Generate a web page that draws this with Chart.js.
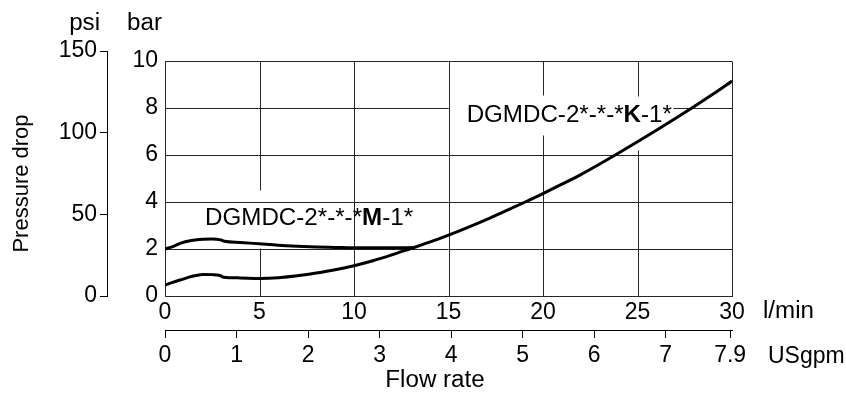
<!DOCTYPE html>
<html>
<head>
<meta charset="utf-8">
<script src="https://cdn.jsdelivr.net/npm/chart.js@4.4.0/dist/chart.umd.min.js"></script>
<style>
body { margin: 0; background: #fff; }
#wrap { width: 846px; height: 393px; }
</style>
</head>
<body>
<div id="wrap"><canvas id="chart" width="846" height="393"></canvas></div>
<script>
// flow rate in l/min, pressure drop in bar
var kFlow = [0, 0.4, 0.8, 1.4, 2.0, 2.5, 2.9, 3.1, 4, 5, 6, 7, 8, 9, 10, 11, 12, 13, 14, 15, 16, 17, 18, 19, 20, 21, 22, 23, 24, 25, 26, 27, 28, 29, 30];
var kBar  = [0.47, 0.58, 0.68, 0.83, 0.92, 0.91, 0.87, 0.80, 0.77, 0.75, 0.78, 0.86, 0.98, 1.12, 1.29, 1.50, 1.75, 2.02, 2.29, 2.59, 2.91, 3.25, 3.61, 3.98, 4.36, 4.76, 5.17, 5.62, 6.09, 6.57, 7.06, 7.56, 8.07, 8.60, 9.15];

var mFlow = [0, 0.4, 0.8, 1.4, 2.0, 2.5, 2.95, 3.15, 4, 5, 6, 7, 8, 9, 10, 11, 12, 13.2];
var mBar  = [2.00, 2.10, 2.24, 2.36, 2.42, 2.43, 2.39, 2.33, 2.28, 2.22, 2.16, 2.12, 2.09, 2.07, 2.05, 2.05, 2.05, 2.06];

var flowTicks = [0, 5, 10, 15, 20, 25, 30];
var gpmTicks = [0, 1, 2, 3, 4, 5, 6, 7, 7.9];
var barTicks = [0, 2, 4, 6, 8, 10];
var psiTicks = [0, 50, 100, 150];

var kName = ["DGMDC-2*-*-*", "K", "-1*"];
var mName = ["DGMDC-2*-*-*", "M", "-1*"];

// where the vertical grid lines are broken behind the labels (bar ranges)
var vGridSegs = { 5: [[0, 2.04], [4.5, 10]], 20: [[0, 6.85], [8.55, 10]], 25: [[0, 6.2], [8.5, 10]] };

var FONT = "'Liberation Sans', Arial, Helvetica, sans-serif";
var gridColor = "#262626";

function pts(xs, ys) {
    var out = [];
    for (var i = 0; i < xs.length; i++)
        out.push({ x: xs[i], y: ys[i] });
    return out;
}

function setTicks(list) {
    return function (s) { s.ticks = list.map(function (v) { return { value: v }; }); };
}

function drawParts(ctx, parts, x, y, size, align, stretch) {
    ctx.save();
    ctx.translate(x, y);
    ctx.scale(stretch || 1.05, 1);
    ctx.textBaseline = "alphabetic";
    ctx.fillStyle = "#000";
    var total = 0;
    for (var i = 0; i < parts.length; i++) {
        ctx.font = (i == 1 && parts.length == 3 ? "bold " : "") + size + "px " + FONT;
        total += ctx.measureText(parts[i]).width;
    }
    var cx = align == "right" ? -total : (align == "center" ? -total / 2 : 0);
    ctx.textAlign = "left";
    for (var i = 0; i < parts.length; i++) {
        ctx.font = (i == 1 && parts.length == 3 ? "bold " : "") + size + "px " + FONT;
        ctx.fillText(parts[i], cx, 0);
        cx += ctx.measureText(parts[i]).width;
    }
    ctx.restore();
}

var gridPlugin = {
    id: "vgrid",
    beforeDatasetsDraw: function (chart) {
        var ctx = chart.ctx, xs = chart.scales.x, ys = chart.scales.y;
        ctx.save();
        // gap in the 8 bar line behind the K label
        ctx.fillStyle = "#fff";
        var y8 = ys.getPixelForValue(8);
        ctx.fillRect(xs.getPixelForValue(15) + 1, y8 - 2, xs.getPixelForValue(26.9) - xs.getPixelForValue(15) - 1, 4);

        ctx.strokeStyle = gridColor;
        ctx.lineWidth = 1;
        flowTicks.forEach(function (v) {
            var px = Math.round(xs.getPixelForValue(v)) + 0.5;
            var segs = vGridSegs[v] || [[0, 10]];
            segs.forEach(function (s) {
                ctx.beginPath();
                ctx.moveTo(px, Math.round(ys.getPixelForValue(s[0])) + 0.5);
                ctx.lineTo(px, Math.round(ys.getPixelForValue(s[1])) + 0.5);
                ctx.stroke();
            });
        });
        ctx.restore();
    },
    afterDraw: function (chart) {
        var ctx = chart.ctx, xs = chart.scales.x, ys = chart.scales.y, a = chart.chartArea;
        drawParts(ctx, mName, xs.getPixelForValue(2.12), ys.getPixelForValue(3.02), 23);
        drawParts(ctx, kName, xs.getPixelForValue(15.96), ys.getPixelForValue(7.42), 23);

        drawParts(ctx, ["psi"], chart.scales.psi.right - 7, a.top - 21.5, 23, "right");
        drawParts(ctx, ["bar"], a.left - 3, a.top - 21.5, 23, "right");
        drawParts(ctx, ["l/min"], a.right + 31, 318, 23);
        drawParts(ctx, ["USgpm"], a.right + 36, 363, 23, "left", 1.0);
        drawParts(ctx, ["Flow rate"], 435, 387, 23, "center");

        ctx.save();
        ctx.translate(28, 183.5);
        ctx.rotate(-Math.PI / 2);
        ctx.font = "22px " + FONT;
        ctx.fillStyle = "#000";
        ctx.textAlign = "center";
        ctx.textBaseline = "alphabetic";
        ctx.fillText("Pressure drop", 0, 0);
        ctx.restore();
    }
};

var tickFont = { family: FONT, size: 23 };

new Chart(document.getElementById("chart"), {
    type: "line",
    data: {
        datasets: [
            { label: "K", data: pts(kFlow, kBar), borderColor: "#000", borderWidth: 3, pointRadius: 0, cubicInterpolationMode: "monotone", fill: false },
            { label: "M", data: pts(mFlow, mBar), borderColor: "#000", borderWidth: 3, pointRadius: 0, cubicInterpolationMode: "monotone", fill: false }
        ]
    },
    options: {
        responsive: false,
        animation: false,
        devicePixelRatio: 1,
        layout: { padding: { top: 51, right: 114, bottom: 18, left: 0 } },
        plugins: { legend: { display: false }, tooltip: { enabled: false } },
        scales: {
            x: {
                type: "linear", position: "bottom", min: 0, max: 30, weight: 0,
                afterBuildTicks: setTicks(flowTicks),
                afterFit: function (s) { s.height = 34; },
                grid: { drawOnChartArea: false, drawTicks: false },
                border: { display: true, color: gridColor, width: 1 },
                ticks: { padding: 3, font: tickFont, color: "#000", maxRotation: 0, autoSkip: false, callback: function (v) { return String(v); } }
            },
            gpm: {
                type: "linear", position: "bottom", min: 0, max: 30 / 3.785, weight: 1,
                afterBuildTicks: setTicks(gpmTicks),
                afterFit: function (s) { s.height = 45; },
                grid: { drawOnChartArea: false, drawTicks: true, tickLength: 8, color: "#000" },
                border: { display: true, color: "#000", width: 1 },
                ticks: { padding: 4, font: tickFont, color: "#000", maxRotation: 0, autoSkip: false, callback: function (v) { return String(v); } }
            },
            y: {
                position: "left", min: 0, max: 10.43, weight: 0,
                afterBuildTicks: setTicks(barTicks),
                afterFit: function (s) { s.width = 58; },
                grid: { drawTicks: false, color: gridColor, lineWidth: 1 },
                border: { display: false },
                ticks: { padding: 7, font: tickFont, color: "#000", callback: function (v) { return String(v); } }
            },
            psi: {
                position: "left", min: 0, max: 150, weight: 1,
                afterBuildTicks: setTicks(psiTicks),
                afterFit: function (s) { s.width = 107; },
                grid: { drawOnChartArea: false, drawTicks: true, tickLength: 7, color: "#000" },
                border: { display: true, color: "#000", width: 1 },
                ticks: { padding: 3, font: tickFont, color: "#000", callback: function (v) { return String(v); } }
            }
        }
    },
    plugins: [gridPlugin]
});
</script>
</body>
</html>
